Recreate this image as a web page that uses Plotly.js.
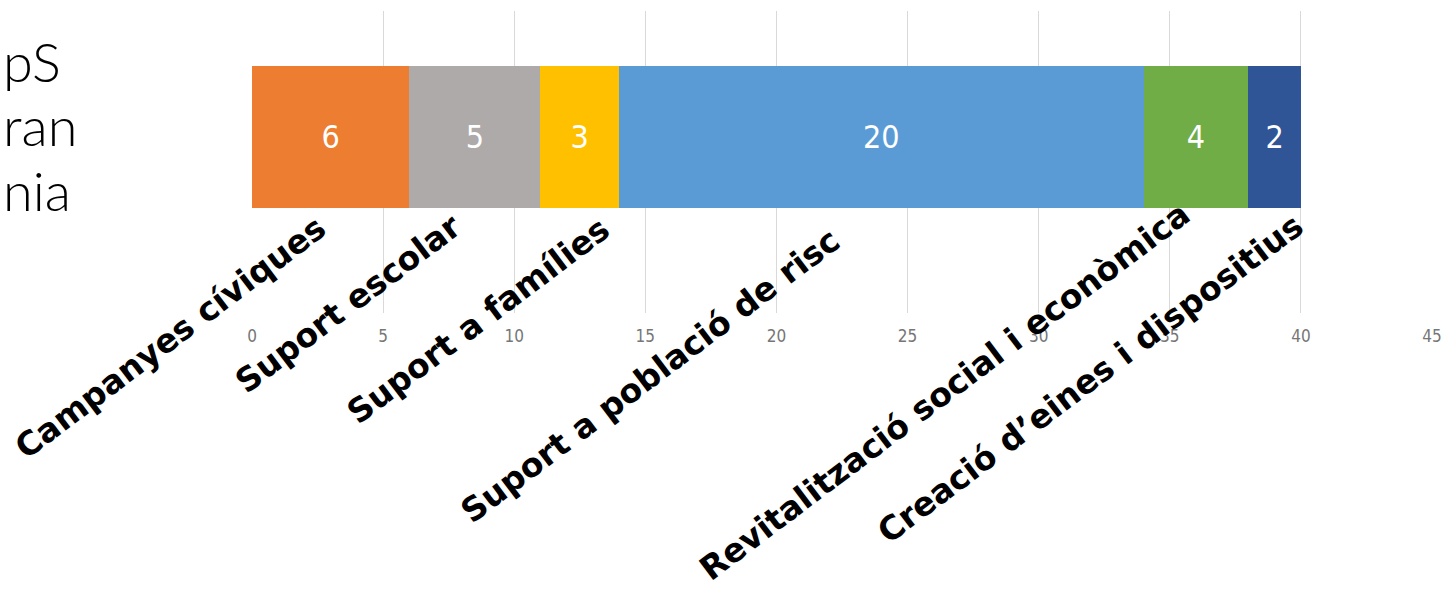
<!DOCTYPE html>
<html>
<head>
<meta charset="utf-8">
<script src="https://cdn.plot.ly/plotly-3.0.1.min.js"></script>
<style>html,body{margin:0;padding:0;background:#fff;}#chart{width:1443px;height:593px;}</style>
</head>
<body>
<div id="chart"></div>
<script>
// ---- data ----
var categories = ["Campanyes cíviques", "Suport escolar", "Suport a famílies", "Suport a població de risc", "Revitalització social i econòmica", "Creació d’eines i dispositius"];
var values = [6, 5, 3, 20, 4, 2];
var colors = ["#ED7D31", "#AEAAAA", "#FFC000", "#5B9BD5", "#70AD47", "#2F5597"];
var tickValues = [0, 5, 10, 15, 20, 25, 30, 35, 40, 45];
var sideText = ["pS", "ran", "nia"];

// ---- layout geometry (pixels) ----
var W = 1443, H = 593;
var mL = 252, mR = 11, mT = 11, mB = 280;
var plotW = W - mL - mR, plotH = H - mT - mB;
function px2x(px) { return (px - mL) / plotW; }
function px2y(py) { return (H - mB - py) / plotH; }

// label bbox centres in pixels
var labelPos = [[170, 337], [348, 303], [478, 320], [650, 375], [944, 391], [1090, 378]];
var sidePos = [[1, 62], [1, 126], [1, 190]];

var traces = categories.map(function (c, i) {
  return {
    type: "bar", orientation: "h", name: c,
    x: [values[i]], y: [0], width: [1],
    marker: { color: colors[i], line: { width: 0 } },
    text: [String(values[i])], textposition: "inside", insidetextanchor: "middle",
    textangle: 0, constraintext: "none",
    textfont: { color: "#ffffff", size: 32, family: "'Liberation Sans Narrow', 'DejaVu Sans Condensed', sans-serif" },
    hoverinfo: "x+name", showlegend: false
  };
});

var annotations = categories.map(function (c, i) {
  return {
    text: c, xref: "paper", yref: "paper",
    x: px2x(labelPos[i][0]), y: px2y(labelPos[i][1]),
    xanchor: "center", yanchor: "middle", showarrow: false, textangle: -37,
    font: { family: "'DejaVu Sans', sans-serif", size: 33, weight: 700, color: "#000000" }
  };
});
sideText.forEach(function (t, i) {
  annotations.push({
    text: t, xref: "paper", yref: "paper",
    x: px2x(sidePos[i][0]), y: px2y(sidePos[i][1]),
    xanchor: "left", yanchor: "middle", showarrow: false,
    font: { family: "Lato, 'Noto Sans', sans-serif", size: 54, weight: 300, color: "#000000" }
  });
});

var layout = {
  width: W, height: H,
  margin: { l: mL, r: mR, t: mT, b: mB, pad: 0 },
  paper_bgcolor: "#ffffff", plot_bgcolor: "#ffffff",
  barmode: "stack", bargap: 0,
  showlegend: false,
  xaxis: {
    range: [0, 45], tickvals: tickValues, ticktext: tickValues.map(String),
    showgrid: true, gridcolor: "#D9D9D9", gridwidth: 1,
    zeroline: false, showline: false, ticks: "",
    tickfont: { family: "'Liberation Sans Narrow', 'DejaVu Sans Condensed', sans-serif", size: 17, color: "#767676" },
    ticklabelstandoff: 11, fixedrange: true
  },
  yaxis: {
    range: [-1.239, 0.887], showgrid: false, zeroline: false, showline: false,
    showticklabels: false, ticks: "", fixedrange: true
  },
  annotations: annotations
};

Plotly.newPlot("chart", traces, layout, { displayModeBar: false, staticPlot: true });
</script>
</body>
</html>
